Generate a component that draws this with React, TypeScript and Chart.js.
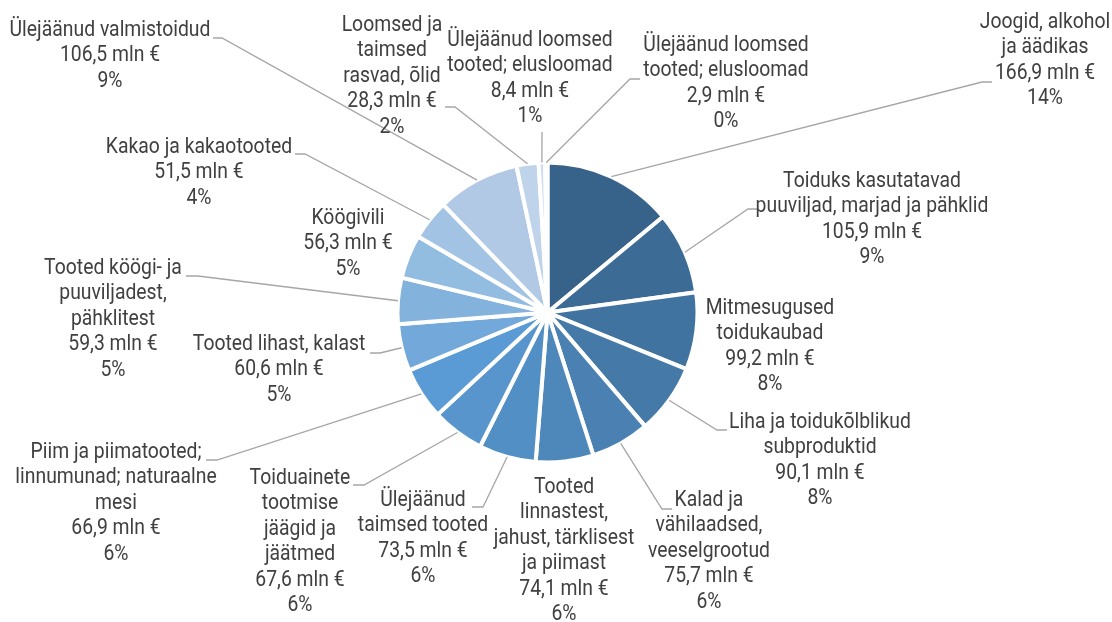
import React, { useEffect, useRef } from "react";
import { Chart, registerables } from "chart.js";

Chart.register(...registerables);

const categoryLines: string[][] = [
  ["Joogid, alkohol", "ja äädikas"],
  ["Toiduks kasutatavad", "puuviljad, marjad ja pähklid"],
  ["Mitmesugused", "toidukaubad"],
  ["Liha ja toidukõlblikud", "subproduktid"],
  ["Kalad ja", "vähilaadsed,", "veeselgrootud"],
  ["Tooted", "linnastest,", "jahust, tärklisest", "ja piimast"],
  ["Ülejäänud", "taimsed tooted"],
  ["Toiduainete", "tootmise", "jäägid ja", "jäätmed"],
  ["Piim ja piimatooted;", "linnumunad; naturaalne", "mesi"],
  ["Tooted lihast, kalast"],
  ["Tooted köögi- ja", "puuviljadest,", "pähklitest"],
  ["Köögivili"],
  ["Kakao ja kakaotooted"],
  ["Ülejäänud valmistoidud"],
  ["Loomsed ja", "taimsed", "rasvad, õlid"],
  ["Ülejäänud loomsed", "tooted; elusloomad"],
  ["Ülejäänud loomsed", "tooted; elusloomad"],
];

const values: number[] = [
  166.9, 105.9, 99.2, 90.1, 75.7, 74.1, 73.5, 67.6, 66.9, 60.6, 59.3, 56.3,
  51.5, 106.5, 28.3, 8.4, 2.9,
];

const sliceColors: string[] = [
  "#37628a", "#3c6b96", "#40739f", "#457aa8", "#4a81b2", "#4e88bb",
  "#528fc4", "#5795cc", "#5b9bd5", "#72a8da", "#83b2dd", "#93bce1",
  "#a2c3e4", "#b2c9e6", "#bfd3eb", "#cddcf0", "#dce6f4",
];

// label layout: text block centre x, first line centre y, leader elbow & end
type LabelPos = { x: number; y: number; elbow?: [number, number]; end?: [number, number] };
const labelLayout: LabelPos[] = [
  { x: 1045, y: 22, elbow: [982, 82], end: [992, 82] },
  { x: 872, y: 181, elbow: [748, 209], end: [758, 209] },
  { x: 770, y: 308 },
  { x: 820, y: 422, elbow: [717, 430], end: [727, 430] },
  { x: 709, y: 500, elbow: [662, 509], end: [672, 509] },
  { x: 564, y: 487 },
  { x: 423, y: 500, elbow: [483, 507], end: [472, 507] },
  { x: 300, y: 478, elbow: [364, 485], end: [353, 485] },
  { x: 116, y: 452, elbow: [217, 460], end: [206, 460] },
  { x: 279, y: 344, elbow: [380, 353], end: [370, 353] },
  { x: 113, y: 268, elbow: [198, 276], end: [186, 276] },
  { x: 348, y: 218 },
  { x: 199, y: 147, elbow: [305, 154], end: [295, 154] },
  { x: 110, y: 30, elbow: [222, 38], end: [213, 38] },
  { x: 392, y: 25, elbow: [455, 107], end: [445, 107] },
  { x: 530, y: 40, elbow: [542, 132], end: [542, 132] },
  { x: 726, y: 45, elbow: [630, 79], end: [640, 79] },
];

const LINE_H = 25.5;
const FONT_SIZE = 22;
const SCALE_X = 0.88;

const formatValue = (v: number) => v.toFixed(1).replace(".", ",") + " mln €";

const outsideLabels = {
  id: "outsideLabels",
  afterDraw(chart: any) {
    const ctx: CanvasRenderingContext2D = chart.ctx;
    const meta = chart.getDatasetMeta(0);
    const total = values.reduce((a, b) => a + b, 0);
    ctx.save();
    // leader lines
    ctx.strokeStyle = "#a6a6a6";
    ctx.lineWidth = 1.3;
    meta.data.forEach((arc: any, i: number) => {
      const lay = labelLayout[i];
      if (!lay.elbow || !lay.end) return;
      const mid = (arc.startAngle + arc.endAngle) / 2;
      const sx = arc.x + Math.cos(mid) * arc.outerRadius;
      const sy = arc.y + Math.sin(mid) * arc.outerRadius;
      ctx.beginPath();
      ctx.moveTo(sx, sy);
      ctx.lineTo(lay.elbow[0], lay.elbow[1]);
      ctx.lineTo(lay.end[0], lay.end[1]);
      ctx.stroke();
    });
    // texts
    ctx.fillStyle = "#404040";
    ctx.font = `${FONT_SIZE}px Roboto, "Noto Sans", sans-serif`;
    ctx.textAlign = "center";
    ctx.textBaseline = "middle";
    values.forEach((v, i) => {
      const lay = labelLayout[i];
      const lines = [
        ...categoryLines[i],
        formatValue(v),
        Math.round((v / total) * 100) + "%",
      ];
      lines.forEach((t, k) => {
        ctx.save();
        ctx.translate(lay.x, lay.y + k * LINE_H);
        ctx.scale(SCALE_X, 1);
        ctx.fillText(t, 0, 0);
        ctx.restore();
      });
    });
    ctx.restore();
  },
};

export default function App() {
  const canvasRef = useRef<HTMLCanvasElement | null>(null);
  useEffect(() => {
    if (!canvasRef.current) return;
    const chart = new Chart(canvasRef.current, {
      type: "pie",
      data: {
        labels: categoryLines.map((l) => l.join(" ")),
        datasets: [
          {
            data: values,
            backgroundColor: sliceColors,
            borderColor: "#ffffff",
            borderWidth: 4,
          },
        ],
      },
      options: {
        animation: false,
        responsive: false,
        maintainAspectRatio: false,
        layout: {
          padding: { top: 160.5, bottom: 157.5, left: 395.5, right: 412.5 },
        },
        plugins: {
          legend: { display: false },
          tooltip: { enabled: false },
        },
      },
      plugins: [outsideLabels],
    });
    return () => chart.destroy();
  }, []);
  return (
    <div style={{ position: "fixed", left: 0, top: 0, width: 1112, height: 622, background: "#fff" }}>
      <canvas ref={canvasRef} width={1112} height={622} style={{ width: 1112, height: 622 }} />
    </div>
  );
}
